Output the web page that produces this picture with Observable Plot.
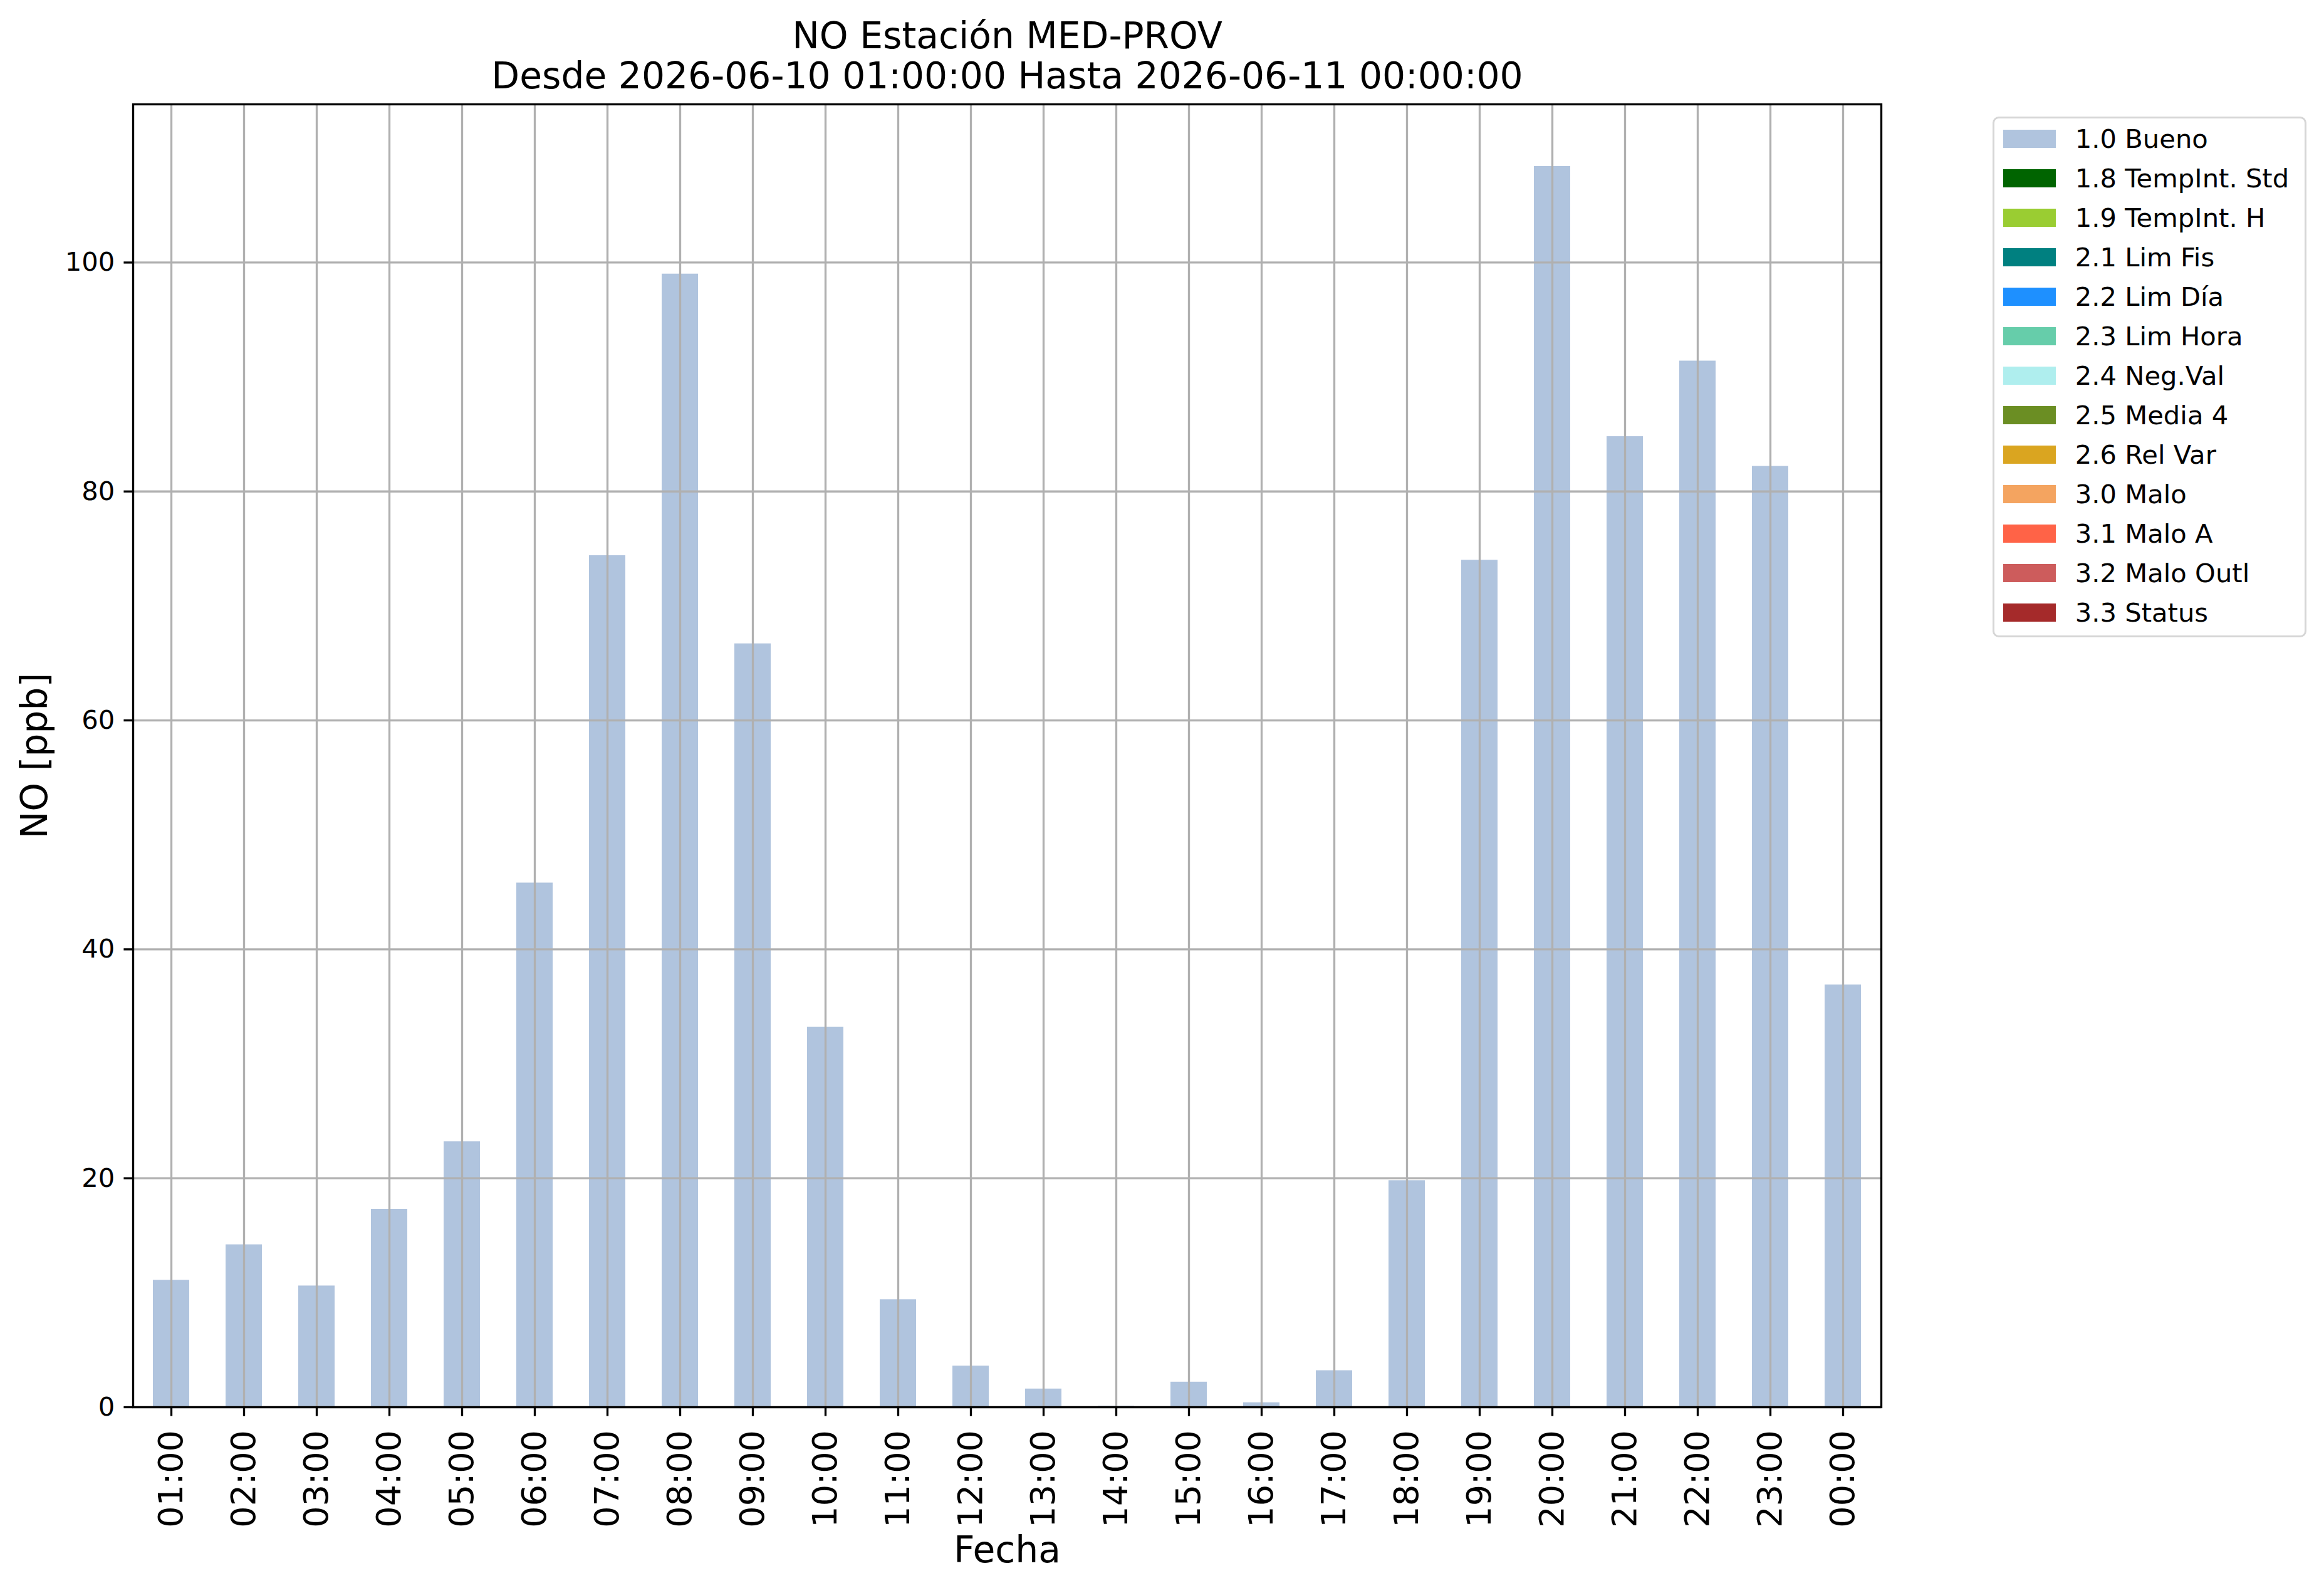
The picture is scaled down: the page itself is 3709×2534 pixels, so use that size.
<!DOCTYPE html>
<html><head><meta charset="utf-8">
<script src="https://cdn.jsdelivr.net/npm/d3@7"></script>
<script src="https://cdn.jsdelivr.net/npm/@observablehq/plot@0.6"></script>
<style>
html,body{margin:0;padding:0;background:#fff;}
#wrap{position:relative;width:3709px;height:2534px;font-family:"DejaVu Sans";background:#fff;}
#wrap svg{position:absolute;left:0;top:0;}
#legend{position:absolute;left:3179.5px;top:185.5px;width:501px;height:831px;box-sizing:border-box;border:3.3px solid #d6d6d6;border-radius:10px;background:#fff;padding:18.2px 0 0 14.2px;}
.row{display:flex;align-items:center;height:29px;margin-bottom:34px;}
.sw{width:84px;height:29px;flex:none;}
.lab{margin-left:31px;font-family:"DejaVu Sans";font-size:41.7px;line-height:29px;white-space:nowrap;color:#000;}
</style></head>
<body><div id="wrap"></div>
<script>
const hours = ["01:00","02:00","03:00","04:00","05:00","06:00","07:00","08:00","09:00","10:00","11:00","12:00",
               "13:00","14:00","15:00","16:00","17:00","18:00","19:00","20:00","21:00","22:00","23:00","00:00"];
const noValues = [11.1, 14.2, 10.6, 17.3, 23.2, 45.8, 74.4, 99.0, 66.7, 33.2, 9.4, 3.6,
                  1.6, 0.1, 2.2, 0.4, 3.2, 19.8, 74.0, 108.4, 84.8, 91.4, 82.2, 36.9];
const flagLabels = ["1.0 Bueno","1.8 TempInt. Std","1.9 TempInt. H","2.1 Lim Fis","2.2 Lim Día","2.3 Lim Hora",
                    "2.4 Neg.Val","2.5 Media 4","2.6 Rel Var","3.0 Malo","3.1 Malo A","3.2 Malo Outl","3.3 Status"];
const flagColors = ["#B0C4DE","#006400","#9ACD32","#008080","#1E90FF","#66CDAA",
                    "#AFEEEE","#6B8E23","#DAA520","#F4A460","#FF6347","#CD5C5C","#A52A2A"];
const barFlag = "1.0 Bueno";
const yTicks = [0, 20, 40, 60, 80, 100];
const titleLines = ["NO Estación MED-PROV", "Desde 2026-06-10 01:00:00 Hasta 2026-06-11 00:00:00"];
const xLabel = "Fecha";
const yLabel = "NO [ppb]";

const rows = hours.map((h, i) => ({hour: h, value: noValues[i], flag: barFlag}));
const lw = 3.33;
const grid = {stroke: "#b0b0b0", strokeOpacity: 1, strokeWidth: lw};

const chart = Plot.plot({
  width: 3709, height: 2534,
  marginLeft: 212, marginRight: 707, marginTop: 166, marginBottom: 289,
  style: {fontFamily: "DejaVu Sans", fontSize: "41.7px", background: "white", color: "black", overflow: "visible"},
  x: {type: "band", domain: hours, paddingInner: 0.5, paddingOuter: 0.25},
  y: {domain: [0, d3.max(noValues) * 1.05]},
  color: {type: "ordinal", domain: flagLabels, range: flagColors},
  marks: [
    Plot.barY(rows, {x: "hour", y: "value", fill: "flag"}),
    Plot.gridX(grid),
    Plot.gridY(yTicks, grid),
    Plot.frame({stroke: "black", strokeWidth: lw}),
    Plot.axisY(yTicks, {tickSize: 14.6, tickPadding: 14.6, strokeWidth: lw, fontSize: 41.7, label: null}),
    Plot.axisX({tickRotate: -90, tickSize: 14.6, tickPadding: 22, strokeWidth: lw, fontSize: 54, label: null}),
    Plot.text([titleLines.join("\n")], {text: d => d, frameAnchor: "top", dy: -26, textAnchor: "middle",
      lineAnchor: "bottom", lineHeight: 1.098, fontSize: 58.3}),
    Plot.text([yLabel], {text: d => d, frameAnchor: "left", dx: -138, rotate: -90, textAnchor: "middle",
      lineAnchor: "bottom", fontSize: 58.3}),
    Plot.text([xLabel], {text: d => d, frameAnchor: "bottom", dy: 247, textAnchor: "middle",
      lineAnchor: "bottom", fontSize: 58.3})
  ]
});

const wrap = document.getElementById("wrap");
wrap.appendChild(chart);

const legend = document.createElement("div");
legend.id = "legend";
flagLabels.forEach((lab, i) => {
  const row = document.createElement("div");
  row.className = "row";
  const sw = document.createElement("span");
  sw.className = "sw";
  sw.style.background = flagColors[i];
  const tx = document.createElement("span");
  tx.className = "lab";
  tx.textContent = lab;
  row.appendChild(sw);
  row.appendChild(tx);
  legend.appendChild(row);
});
wrap.appendChild(legend);
</script>
</body></html>
